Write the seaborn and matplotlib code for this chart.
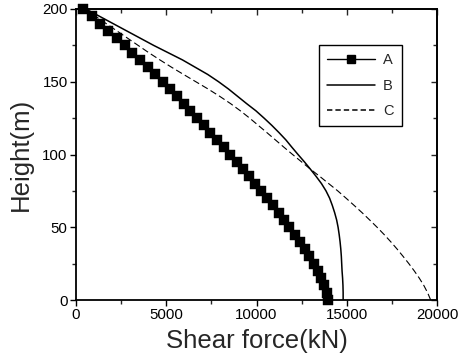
import numpy as np
import pandas as pd
import matplotlib
matplotlib.use("Agg")
import matplotlib.pyplot as plt
import seaborn as sns
from matplotlib.ticker import MultipleLocator
from matplotlib.lines import Line2D

heights = [0, 5, 10, 15, 20, 25, 30, 35, 40, 45, 50, 55, 60, 65, 70, 75, 80, 85, 90, 95,
           100, 105, 110, 115, 120, 125, 130, 135, 140, 145, 150, 155, 160, 165, 170, 175,
           180, 185, 190, 195, 200]

shear_A = [13950, 13880, 13760, 13600, 13400, 13170, 12930, 12680, 12420, 12120,
           11820, 11520, 11220, 10910, 10590, 10260, 9930, 9590, 9250, 8900,
           8540, 8180, 7810, 7440, 7070, 6700, 6330, 5960, 5590, 5200,
           4800, 4390, 3970, 3550, 3120, 2690, 2250, 1800, 1340, 870, 400]

shear_B = [14800, 14800, 14790, 14770, 14740, 14720, 14700, 14670, 14630, 14580,
           14520, 14440, 14330, 14200, 14050, 13850, 13600, 13300, 12980, 12650,
           12300, 11960, 11630, 11250, 10850, 10420, 9970, 9450, 8950, 8450,
           7900, 7300, 6600, 5900, 5100, 4300, 3550, 2800, 2050, 1300, 550]

shear_C = [19650, 19480, 19270, 19020, 18740, 18440, 18120, 17790, 17440, 17070,
           16680, 16270, 15850, 15410, 14960, 14500, 14000, 13500, 12980, 12490,
           12000, 11520, 11050, 10580, 10100, 9620, 9110, 8560, 7960, 7320,
           6640, 5960, 5290, 4650, 4030, 3440, 2850, 2260, 1670, 1080, 480]

series_labels = ["A", "B", "C"]
x_ticks = [0, 5000, 10000, 15000, 20000]
y_ticks = [0, 50, 100, 150, 200]

sns.set_style("ticks")
plt.rcParams['font.family'] = ['Liberation Sans', 'DejaVu Sans']

fig = plt.figure(figsize=(4.62, 3.58), dpi=100)
ax = fig.add_axes([76/462, 1 - 300/358, (437-76)/462, (300-9)/358])

dfA = pd.DataFrame({"h": heights, "v": shear_A})
dfB = pd.DataFrame({"h": heights, "v": shear_B})
dfC = pd.DataFrame({"h": heights, "v": shear_C})

sns.lineplot(data=dfA, x="v", y="h", sort=False, estimator=None, ax=ax,
             color="black", linewidth=1.0, marker="s", markersize=7.8,
             markeredgecolor="black", markerfacecolor="black", markeredgewidth=0.3,
             clip_on=False, zorder=3)
sns.lineplot(data=dfB, x="v", y="h", sort=False, estimator=None, ax=ax,
             color="black", linewidth=1.1)
sns.lineplot(data=dfC, x="v", y="h", sort=False, estimator=None, ax=ax,
             color="black", linewidth=0.8, linestyle=(0, (6, 3)))

ax.set_xlim(0, 20000)
ax.set_ylim(0, 200)
ax.set_xticks(x_ticks)
ax.set_yticks(y_ticks)
ax.xaxis.set_minor_locator(MultipleLocator(2500))
ax.yaxis.set_minor_locator(MultipleLocator(25))
ax.tick_params(axis='both', which='major', length=4, width=1.0, labelsize=10.8, pad=2,
               direction='out', color='black', labelcolor='black')
ax.tick_params(axis='both', which='minor', length=3, width=1.0, direction='out')

for s in ax.spines.values():
    s.set_linewidth(1.3)
    s.set_color('black')
    s.set_visible(True)

# mirrored inward ticks on top and right
secx = ax.secondary_xaxis('top')
secx.set_xticks(x_ticks)
secx.xaxis.set_minor_locator(MultipleLocator(2500))
secx.tick_params(which='major', direction='in', length=4, width=1.0, labeltop=False)
secx.tick_params(which='minor', direction='in', length=3, width=1.0)
secx.set_xticklabels([])
secy = ax.secondary_yaxis('right')
secy.set_yticks(y_ticks)
secy.yaxis.set_minor_locator(MultipleLocator(25))
secy.tick_params(which='major', direction='in', length=4, width=1.0, labelright=False)
secy.tick_params(which='minor', direction='in', length=3, width=1.0)
secy.set_yticklabels([])
for sa in (secx, secy):
    for s in sa.spines.values():
        s.set_linewidth(1.3)

ax.set_xlabel("Shear force(kN)", fontsize=18.5, labelpad=5)
ax.set_ylabel("Height(m)", fontsize=18.5, labelpad=7)

handles = [
    Line2D([], [], color='black', linewidth=1.0, marker='s', markersize=5.5),
    Line2D([], [], color='black', linewidth=1.1),
    Line2D([], [], color='black', linewidth=1.1, linestyle=(0, (3.5, 2))),
]
leg = ax.legend(handles, series_labels, loc='upper left',
                bbox_to_anchor=((319-76)/361, (300-45)/291),
                frameon=True, fancybox=False, framealpha=1, edgecolor='black',
                fontsize=10.5, handlelength=3.3, handletextpad=0.55,
                labelspacing=0.8, borderpad=0.55, borderaxespad=0)
leg.get_frame().set_linewidth(1.0)

fig.savefig("out.png", dpi=100)
